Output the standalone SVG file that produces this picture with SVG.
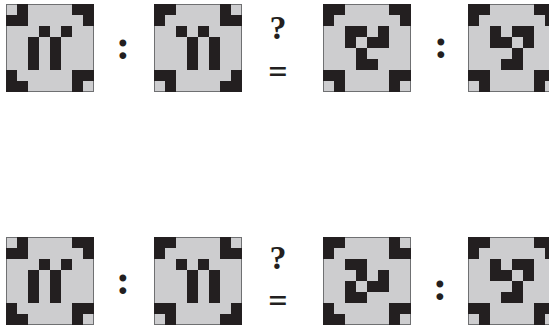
<svg xmlns="http://www.w3.org/2000/svg" width="549" height="329" viewBox="0 0 549 329">
<style>
.bg{fill:#cdcdcf;stroke:#6f7072;stroke-width:1}
.k{fill:#231f20}
.t{font-family:"Liberation Serif",serif;font-weight:bold;fill:#231f20;text-anchor:middle}
.col{font-size:42px}
.q{font-size:34px}
</style>
<defs>
<rect id="c" class="k" width="11" height="11"/>
<g id="A">
<rect class="bg" x="0.5" y="0.5" width="87" height="87"/>
<use href="#c" x="11" y="0"/><use href="#c" x="0" y="11"/><use href="#c" x="11" y="11"/>
<use href="#c" x="66" y="0"/><use href="#c" x="77" y="0"/><use href="#c" x="77" y="11"/>
<use href="#c" x="0" y="66"/><use href="#c" x="0" y="77"/><use href="#c" x="11" y="77"/>
<use href="#c" x="66" y="66"/><use href="#c" x="77" y="66"/><use href="#c" x="66" y="77"/>
<use href="#c" x="33" y="22"/><use href="#c" x="55" y="22"/>
<use href="#c" x="22" y="33"/><use href="#c" x="22" y="44"/><use href="#c" x="22" y="55"/>
<use href="#c" x="44" y="33"/><use href="#c" x="44" y="44"/><use href="#c" x="44" y="55"/>
</g>
<g id="B">
<rect class="bg" x="0.5" y="0.5" width="87" height="87"/>
<use href="#c" x="0" y="0"/><use href="#c" x="11" y="0"/><use href="#c" x="0" y="11"/>
<use href="#c" x="66" y="0"/><use href="#c" x="66" y="11"/><use href="#c" x="77" y="11"/>
<use href="#c" x="0" y="66"/><use href="#c" x="11" y="66"/><use href="#c" x="11" y="77"/>
<use href="#c" x="77" y="66"/><use href="#c" x="66" y="77"/><use href="#c" x="77" y="77"/>
<use href="#c" x="22" y="22"/><use href="#c" x="44" y="22"/>
<use href="#c" x="33" y="33"/><use href="#c" x="33" y="44"/><use href="#c" x="33" y="55"/>
<use href="#c" x="55" y="33"/><use href="#c" x="55" y="44"/><use href="#c" x="55" y="55"/>
</g>
<g id="C">
<rect class="bg" x="0.5" y="0.5" width="87" height="87"/>
<use href="#c" x="0" y="0"/><use href="#c" x="11" y="0"/><use href="#c" x="0" y="11"/>
<use href="#c" x="66" y="0"/><use href="#c" x="77" y="0"/><use href="#c" x="77" y="11"/>
<use href="#c" x="0" y="66"/><use href="#c" x="11" y="66"/><use href="#c" x="11" y="77"/>
<use href="#c" x="66" y="66"/><use href="#c" x="77" y="66"/><use href="#c" x="66" y="77"/>
<use href="#c" x="22" y="22"/><use href="#c" x="33" y="22"/><use href="#c" x="22" y="33"/>
<use href="#c" x="55" y="22"/><use href="#c" x="44" y="33"/><use href="#c" x="55" y="33"/>
<use href="#c" x="33" y="44"/><use href="#c" x="33" y="55"/><use href="#c" x="44" y="55"/>
</g>
<g id="D">
<rect class="bg" x="0.5" y="0.5" width="87" height="87"/>
<use href="#c" x="0" y="0"/><use href="#c" x="11" y="0"/><use href="#c" x="0" y="11"/>
<use href="#c" x="66" y="0"/><use href="#c" x="77" y="0"/><use href="#c" x="77" y="11"/>
<use href="#c" x="0" y="66"/><use href="#c" x="11" y="66"/><use href="#c" x="11" y="77"/>
<use href="#c" x="66" y="66"/><use href="#c" x="77" y="66"/><use href="#c" x="66" y="77"/>
<use href="#c" x="22" y="22"/><use href="#c" x="22" y="33"/><use href="#c" x="33" y="33"/>
<use href="#c" x="44" y="22"/><use href="#c" x="55" y="22"/><use href="#c" x="55" y="33"/>
<use href="#c" x="44" y="44"/><use href="#c" x="44" y="55"/><use href="#c" x="33" y="55"/>
</g>
<g id="E">
<rect class="bg" x="0.5" y="0.5" width="87" height="87"/>
<use href="#c" x="0" y="0"/><use href="#c" x="11" y="0"/><use href="#c" x="0" y="11"/>
<use href="#c" x="66" y="0"/><use href="#c" x="66" y="11"/><use href="#c" x="77" y="11"/>
<use href="#c" x="0" y="66"/><use href="#c" x="0" y="77"/><use href="#c" x="11" y="77"/>
<use href="#c" x="66" y="66"/><use href="#c" x="77" y="66"/><use href="#c" x="66" y="77"/>
<use href="#c" x="22" y="22"/><use href="#c" x="33" y="22"/><use href="#c" x="33" y="33"/>
<use href="#c" x="55" y="33"/><use href="#c" x="55" y="44"/><use href="#c" x="44" y="44"/>
<use href="#c" x="22" y="44"/><use href="#c" x="22" y="55"/><use href="#c" x="33" y="55"/>
</g>
</defs>
<g id="row1">
<g id="tile-1-1"><use href="#A" x="6" y="4"/></g>
<g id="tile-1-2"><use href="#B" x="154" y="4"/></g>
<g id="tile-1-3"><use href="#C" x="323" y="4"/></g>
<g id="tile-1-4"><use href="#D" x="468" y="4"/></g>
<text class="t col" x="123" y="59">:</text>
<text class="t q" x="278" y="39">?</text>
<text class="t q" x="278" y="83">=</text>
<text class="t col" x="441" y="58">:</text>
</g>
<g id="row2">
<g id="tile-2-1"><use href="#A" x="6" y="237"/></g>
<g id="tile-2-2"><use href="#B" x="154" y="237"/></g>
<g id="tile-2-3"><use href="#E" x="323" y="237"/></g>
<g id="tile-2-4"><use href="#D" x="468" y="237"/></g>
<text class="t col" x="123" y="294">:</text>
<text class="t q" x="278" y="269">?</text>
<text class="t q" x="278" y="312">=</text>
<text class="t col" x="440" y="300">:</text>
</g>
</svg>
